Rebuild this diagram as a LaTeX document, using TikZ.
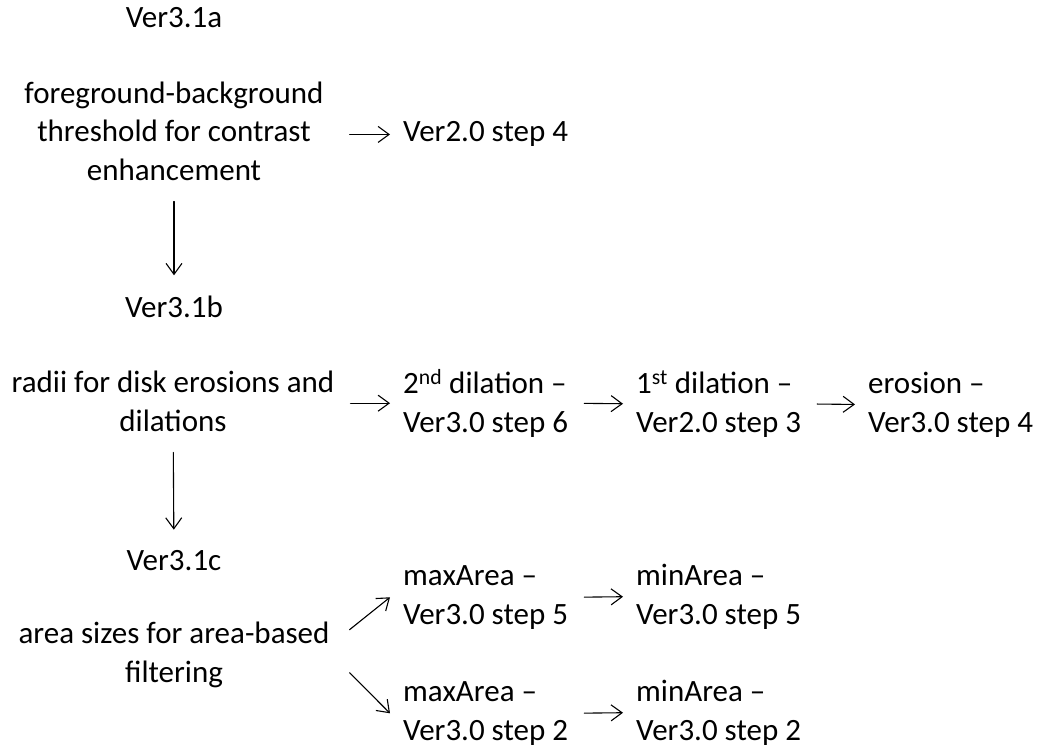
\documentclass[tikz,border=0pt]{standalone}
\usepackage{fontspec}
\setmainfont{Carlito}
\usetikzlibrary{arrows.meta}

\begin{document}
\begin{tikzpicture}[x=1pt, y=-1pt, line join=round, line cap=round,
  txt/.style={inner sep=0pt, align=center, font=\fontsize{31}{38.5}\selectfont},
  lft/.style={txt, align=left, anchor=base west},
  arr/.style={-{Straight Barb[length=11pt,width=16pt]}, line width=1.1pt, shorten <=16pt, shorten >=13pt},
  darr/.style={arr, shorten <=21pt, shorten >=20pt}]
\useasboundingbox (0,0) rectangle (1049,749);
% left column (base = last line)
\node[txt, anchor=base] (v31a) at (174,28) {Ver3.1a};
\node[txt, anchor=base] (fg) at (174,180) {foreground-background\\threshold for contrast\\enhancement};
\node[txt, anchor=base] (v31b) at (174,317) {Ver3.1b};
\node[txt, anchor=base] (radii) at (173,431) {radii for disk erosions and\\dilations};
\node[txt, anchor=base] (v31c) at (174,570) {Ver3.1c};
\node[txt, anchor=base] (area) at (174,682) {area sizes for area-based\\filtering};
% right side
\node[lft] (v20) at (403,142) {Ver2.0 step 4};
\node[lft] (dil2) at (403,432) {2\textsuperscript{nd} dilation --\\Ver3.0 step 6};
\node[lft] (dil1) at (636,432) {1\textsuperscript{st} dilation --\\Ver2.0 step 3};
\node[lft] (ero) at (868,432) {erosion --\\Ver3.0 step 4};
\node[lft] (max5) at (403,624) {maxArea --\\Ver3.0 step 5};
\node[lft] (min5) at (636,624) {minArea --\\Ver3.0 step 5};
\node[lft] (max2) at (403,740) {maxArea --\\Ver3.0 step 2};
\node[lft] (min2) at (636,740) {minArea --\\Ver3.0 step 2};
% connectors
\draw[darr] (fg) -- (v31b);
\draw[darr] (radii) -- (v31c);
\draw[arr, shorten <=26pt] (fg.east |- v20.west) -- (v20.west);
\draw[arr] (radii.east |- dil2.west) -- (dil2.west);
\draw[arr] (dil2.east) -- (dil1.west);
\draw[arr] (dil1.east) -- (ero.west);
\draw[arr, shorten <=0pt, shorten >=0pt] ([shift={(20pt,25pt)}]area.east) -- ([xshift=-13pt]max5.west);
\draw[arr, shorten <=0pt, shorten >=0pt] ([shift={(20pt,-18pt)}]area.east) -- ([xshift=-13pt]max2.west);
\draw[arr] (max5.east) -- (min5.west);
\draw[arr] (max2.east) -- (min2.west);
\end{tikzpicture}
\end{document}
